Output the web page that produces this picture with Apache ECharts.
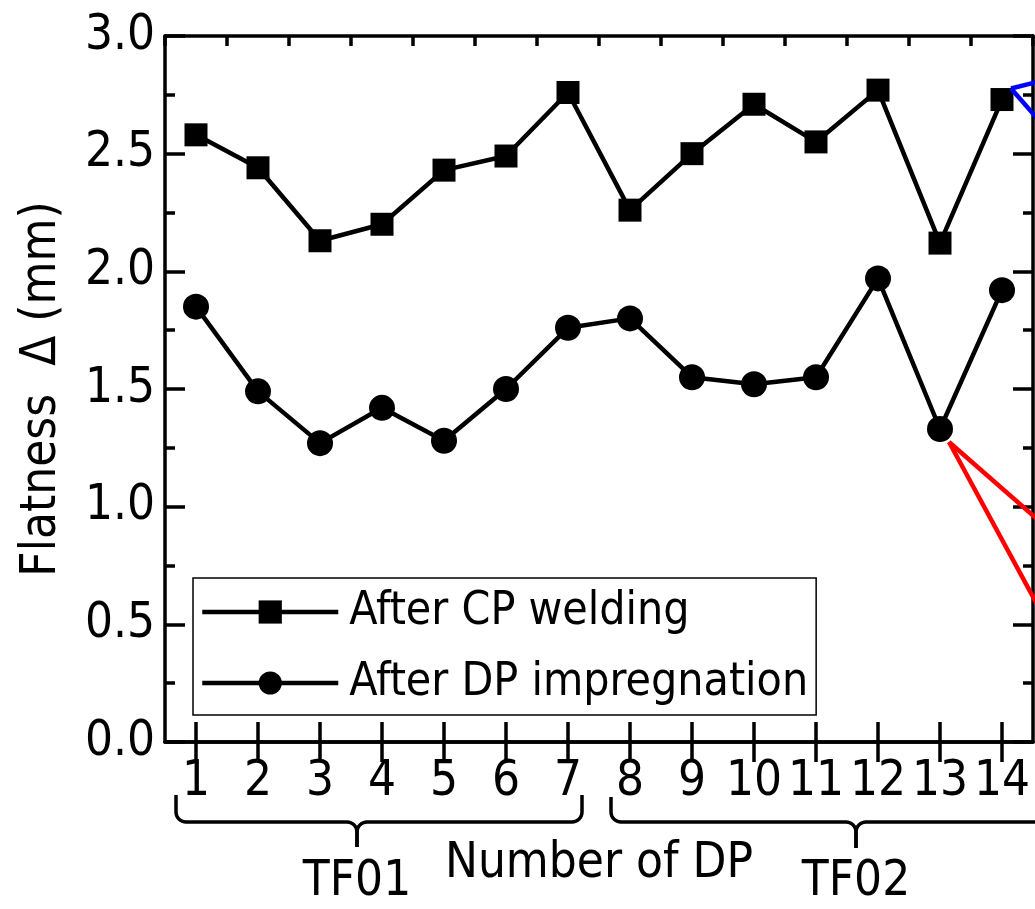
<!DOCTYPE html>
<html>
<head>
<meta charset="utf-8">
<script src="https://cdn.jsdelivr.net/npm/echarts@6/dist/echarts.min.js"></script>
<style>
  html, body { margin: 0; padding: 0; background: #fff; }
  #chart { width: 1035px; height: 909px; }
</style>
</head>
<body>
<div id="chart"></div>
<script>
// Data
const dpNumbers = ['1', '2', '3', '4', '5', '6', '7', '8', '9', '10', '11', '12', '13', '14'];
const afterCpWelding = [2.58, 2.44, 2.13, 2.20, 2.43, 2.49, 2.76, 2.26, 2.50, 2.71, 2.55, 2.77, 2.12, 2.73];
const afterDpImpregnation = [1.85, 1.49, 1.27, 1.42, 1.28, 1.50, 1.76, 1.80, 1.55, 1.52, 1.55, 1.97, 1.33, 1.92];
const yTicks = [0, 0.5, 1.0, 1.5, 2.0, 2.5, 3.0];

// The figure uses a narrow sans; pick the narrowest installed one and size it to match widths
const probe = document.createElement('canvas').getContext('2d');
function widthOf(family) {
    probe.font = '100px ' + family;
    return probe.measureText('After CP welding 1.0').width;
}
let FONT, fs, legendFs;
if (Math.abs(widthOf('"Liberation Sans Narrow", monospace') - widthOf('monospace')) > 1) {
    FONT = '"Liberation Sans Narrow", sans-serif';
    fs = 56;
    legendFs = 55;
} else {
    FONT = '"DejaVu Sans Condensed", "DejaVu Sans", sans-serif';
    fs = 49;
    legendFs = 46;
}

const chart = echarts.init(document.getElementById('chart'));

const catAxisBase = {
    type: 'category',
    data: dpNumbers,
    boundaryGap: true,
    axisLine: {lineStyle: {color: '#000', width: 3.5}},
    splitLine: {show: false}
};

chart.setOption({
    animation: false,
    textStyle: {fontFamily: FONT},
    grid: {left: 165, top: 36, right: 2, bottom: 167, containLabel: false},
    legend: {
        orient: 'vertical',
        left: 193,
        top: 578,
        padding: [11, 8, 9, 7],
        itemGap: 25,
        itemWidth: 136,
        itemHeight: 29,
        borderColor: '#000',
        borderWidth: 1.5,
        lineStyle: {width: 4.5},
        textStyle: {fontFamily: FONT, fontSize: legendFs, color: '#000', padding: [0, 0, 0, 6]},
        data: ['After CP welding', 'After DP impregnation']
    },
    xAxis: [
        Object.assign({}, catAxisBase, {
            position: 'bottom',
            name: 'Number of DP',
            nameLocation: 'middle',
            nameGap: 98,
            nameTextStyle: {fontFamily: FONT, fontSize: fs, color: '#000'},
            axisTick: {show: true, inside: true, length: 20, alignWithLabel: true, lineStyle: {color: '#000', width: 3.5}},
            axisLabel: {fontFamily: FONT, fontSize: fs, color: '#000', margin: 16, interval: 0}
        }),
        Object.assign({}, catAxisBase, {
            position: 'top',
            axisTick: {show: true, inside: true, length: 20, alignWithLabel: true, lineStyle: {color: '#000', width: 3.5}},
            axisLabel: {show: false}
        }),
        Object.assign({}, catAxisBase, {
            position: 'top',
            axisTick: {show: true, inside: true, length: 10, lineStyle: {color: '#000', width: 3.5}},
            axisLabel: {show: false}
        })
    ],
    yAxis: [
        {
            type: 'value',
            min: yTicks[0],
            max: yTicks[yTicks.length - 1],
            interval: 0.5,
            position: 'left',
            name: 'Flatness  \u0394 (mm)',
            nameLocation: 'middle',
            nameGap: 98,
            nameTextStyle: {fontFamily: FONT, fontSize: fs, color: '#000'},
            axisLine: {show: true, lineStyle: {color: '#000', width: 3.5}},
            axisTick: {show: true, inside: true, length: 20, lineStyle: {color: '#000', width: 3.5}},
            minorTick: {show: true, splitNumber: 2, length: 10, lineStyle: {color: '#000', width: 3.5}},
            axisLabel: {fontFamily: FONT, fontSize: fs, color: '#000', margin: 10, formatter: v => v.toFixed(1)},
            splitLine: {show: false}
        },
        {
            type: 'value',
            min: yTicks[0],
            max: yTicks[yTicks.length - 1],
            interval: 0.5,
            position: 'right',
            axisLine: {show: true, lineStyle: {color: '#000', width: 3.5}},
            axisTick: {show: true, inside: true, length: 20, lineStyle: {color: '#000', width: 3.5}},
            minorTick: {show: true, splitNumber: 2, length: 10, lineStyle: {color: '#000', width: 3.5}},
            axisLabel: {show: false},
            splitLine: {show: false}
        }
    ],
    series: [
        {
            name: 'After CP welding',
            type: 'line',
            data: afterCpWelding,
            symbol: 'rect',
            symbolSize: 23,
            lineStyle: {color: '#000', width: 4.5},
            itemStyle: {color: '#000'},
            z: 3
        },
        {
            name: 'After DP impregnation',
            type: 'line',
            data: afterDpImpregnation,
            symbol: 'circle',
            symbolSize: 26,
            lineStyle: {color: '#000', width: 4.5},
            itemStyle: {color: '#000'},
            z: 3
        }
    ]
});

// Annotations: braces under the axis, group labels and the zoom callout lines
function px(idx, value) {
    return chart.convertToPixel({xAxisIndex: 0, yAxisIndex: 0}, [idx, value]);
}

function brace(x0, x1, xc, yTop, yBot, yTip, r) {
    const left = [[x0, yTop]];
    const right = [[x1, yTop]];
    for (let i = 0; i <= 8; i++) {
        const a = Math.PI - (Math.PI / 2) * i / 8;
        left.push([x0 + r + r * Math.cos(a), yBot - r + r * Math.sin(a)]);
        const b = (Math.PI / 2) * i / 8;
        right.push([x1 - r + r * Math.cos(b), yBot - r + r * Math.sin(b)]);
    }
    for (let i = 0; i <= 8; i++) {
        const a = -Math.PI / 2 + (Math.PI / 2) * i / 8;
        left.push([xc - r + r * Math.cos(a), yBot + r + r * Math.sin(a)]);
        const b = -Math.PI / 2 - (Math.PI / 2) * i / 8;
        right.push([xc + r + r * Math.cos(b), yBot + r + r * Math.sin(b)]);
    }
    left.push([xc, yTip]);
    right.push([xc, yTip]);
    const style = {stroke: '#000', lineWidth: 3.5, fill: null};
    return [
        {type: 'polyline', shape: {points: left}, style: style, silent: true},
        {type: 'polyline', shape: {points: right}, style: style, silent: true}
    ];
}

const p1 = px(0, 0), p7 = px(6, 0), p8 = px(7, 0), p12 = px(11, 0);
const p4 = px(3, 0);
const yBase = p1[1];
const b1 = brace(p1[0] - 20, p7[0] + 14, p4[0] - 25, yBase + 53, yBase + 80, yBase + 105, 10);
const b2 = brace(p8[0] - 19, p12[0] + 210, p12[0] - 22, yBase + 55, yBase + 80, yBase + 106, 10);

const cp14 = px(13, afterCpWelding[13]);
const dp13 = px(12, afterDpImpregnation[12]);
const labelFont = fs + 'px ' + FONT;
const graphics = b1.concat(b2).concat([
    {type: 'text', x: p4[0] - 25, y: yBase + 116, style: {text: 'TF01', font: labelFont, fill: '#000', align: 'center', verticalAlign: 'top'}},
    {type: 'text', x: p12[0] - 22, y: yBase + 116, style: {text: 'TF02', font: labelFont, fill: '#000', align: 'center', verticalAlign: 'top'}},
    {type: 'line', shape: {x1: cp14[0] + 9, y1: cp14[1] - 11, x2: cp14[0] + 45, y2: cp14[1] - 20}, style: {stroke: '#0000ff', lineWidth: 4.5}, z: 10},
    {type: 'line', shape: {x1: cp14[0] + 9, y1: cp14[1] - 11, x2: cp14[0] + 45, y2: cp14[1] + 30}, style: {stroke: '#0000ff', lineWidth: 4.5}, z: 10},
    {type: 'line', shape: {x1: dp13[0] + 9, y1: dp13[1] + 13, x2: dp13[0] + 105, y2: dp13[1] + 97}, style: {stroke: '#ff0000', lineWidth: 4.5}, z: 10},
    {type: 'line', shape: {x1: dp13[0] + 9, y1: dp13[1] + 13, x2: dp13[0] + 105, y2: dp13[1] + 190}, style: {stroke: '#ff0000', lineWidth: 4.5}, z: 10}
]);
chart.setOption({graphic: graphics});
</script>
</body>
</html>
